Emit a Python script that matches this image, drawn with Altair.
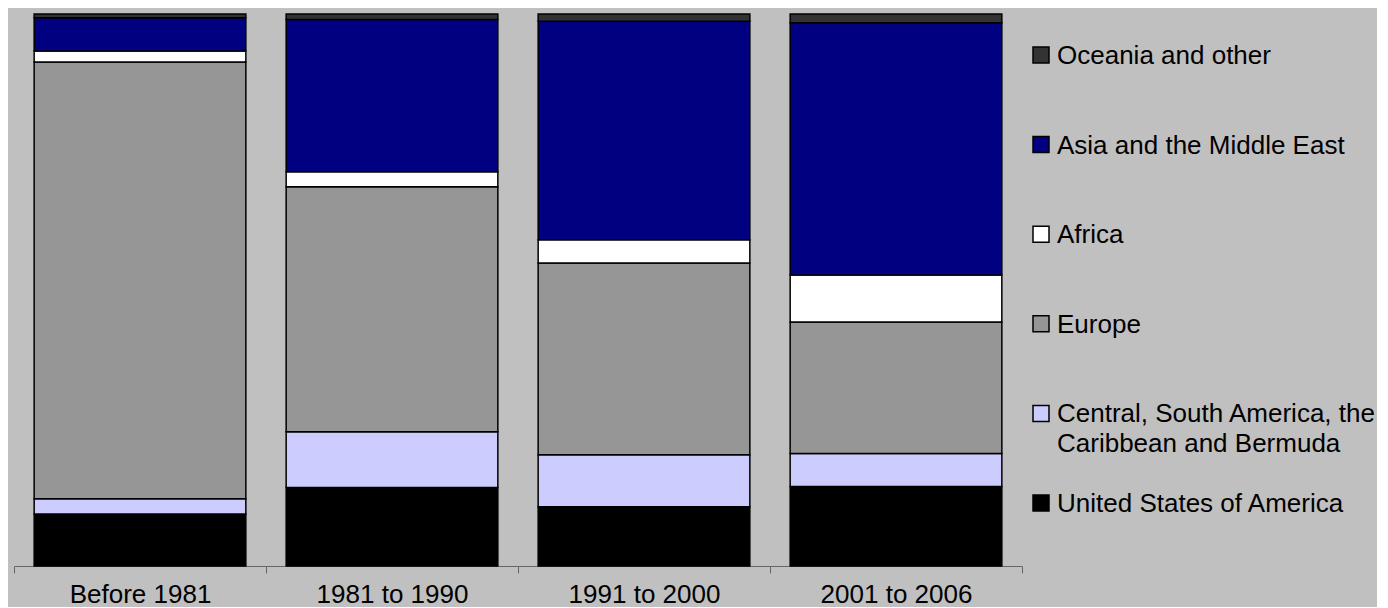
import altair as alt
import pandas as pd

periods = ["Before 1981", "1981 to 1990", "1991 to 2000", "2001 to 2006"]
regions = [
    "United States of America",
    "Central, South America, the Caribbean and Bermuda",
    "Europe",
    "Africa",
    "Asia and the Middle East",
    "Oceania and other",
]
legend_labels = [
    "United States of America",
    "Central, South America, the|Caribbean and Bermuda",
    "Europe",
    "Africa",
    "Asia and the Middle East",
    "Oceania and other",
]
colors = ["#000000", "#CCCCFF", "#969696", "#FFFFFF", "#000080", "#333333"]

usa = [9.4, 14.2, 10.7, 14.4]
central = [2.8, 10.1, 9.4, 6.0]
europe = [79.1, 44.4, 34.7, 23.8]
africa = [2.0, 2.7, 4.2, 8.5]
asia = [6.0, 27.6, 39.5, 45.7]
oceania = [0.7, 1.0, 1.3, 1.6]

series = [usa, central, europe, africa, asia, oceania]
rows = []
for idx, (reg, vals) in enumerate(zip(regions, series)):
    for p, v in zip(periods, vals):
        rows.append({"period": p, "region": reg, "share": v, "idx": idx})
df = pd.DataFrame(rows)

leg = pd.DataFrame({"region": regions, "label": legend_labels})

color_scale = alt.Scale(domain=regions, range=colors)
FONT = "Liberation Sans"

bars = alt.Chart(df).mark_bar(
    stroke="black", strokeWidth=1.5, width=alt.RelativeBandSize(0.84)
).encode(
    x=alt.X(
        "period:N",
        sort=periods,
        title=None,
        scale=alt.Scale(paddingInner=0, paddingOuter=0),
        axis=alt.Axis(
            labelAngle=0,
            tickBand="extent",
            labelFont=FONT,
            labelFontSize=26,
            labelColor="black",
            labelPadding=8,
            tickSize=7,
            tickColor="#666666",
            domainColor="#666666",
            domainWidth=1,
        ),
    ),
    y=alt.Y("share:Q", stack="normalize", axis=None),
    color=alt.Color("region:N", scale=color_scale, legend=None),
    order=alt.Order("idx:Q"),
).properties(width=1008, height=552)

ypos = alt.Y(
    "region:N",
    sort=list(reversed(regions)),
    axis=None,
    scale=alt.Scale(type="point", range=[41, 489], padding=0),
)

squares = alt.Chart(leg).mark_square(
    size=256, stroke="black", strokeWidth=1.5, opacity=1
).encode(
    x=alt.value(13),
    y=ypos,
    color=alt.Color("region:N", scale=color_scale, legend=None),
)

texts = alt.Chart(leg).mark_text(
    align="left",
    baseline="top",
    dy=-12,
    fontSize=26,
    font=FONT,
    lineBreak="|",
    lineHeight=30,
    color="black",
).encode(
    x=alt.value(29),
    y=ypos,
    text="label:N",
)

legend_panel = alt.layer(squares, texts).properties(width=340, height=552)

chart = alt.hconcat(bars, legend_panel, spacing=5).resolve_scale(
    y="independent"
).configure(
    background="#C0C0C0",
    padding={"left": 5, "top": 5, "right": 0, "bottom": 0},
).configure_view(stroke=None)

chart.save("out.html", embed_options={"renderer": "svg", "actions": False})
